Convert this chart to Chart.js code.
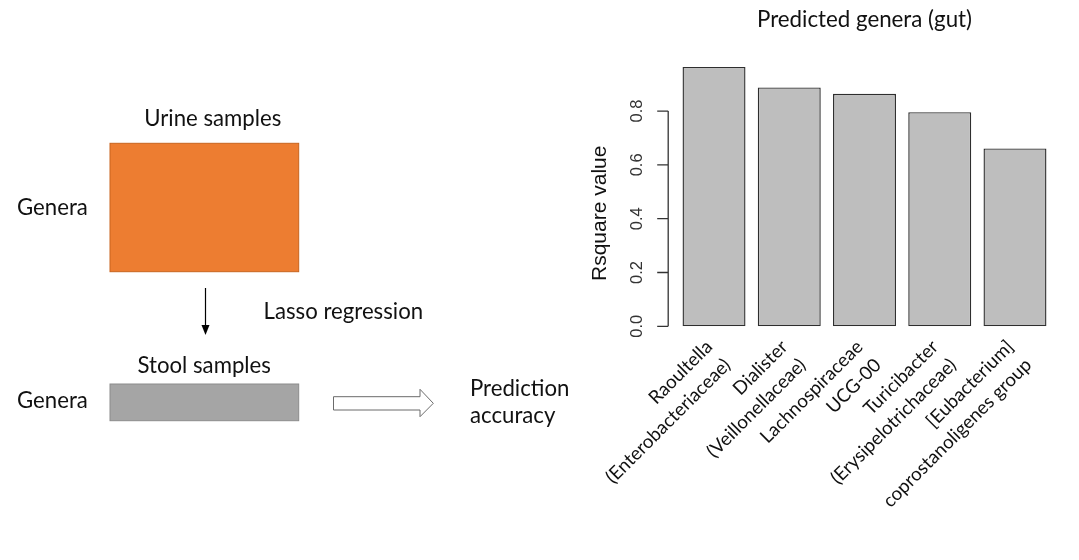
<!DOCTYPE html>
<html><head><meta charset="utf-8">
<script src="https://cdn.jsdelivr.net/npm/chart.js@4"></script>
<style>
html,body{margin:0;padding:0;background:#fff;width:1079px;height:560px;overflow:hidden}
#wrap{position:relative;width:1079px;height:560px}
#c{position:absolute;left:0;top:0}
#diagram{position:absolute;left:0;top:0}
#diagram text{font-family:Lato,"Noto Sans",sans-serif;font-size:22.2px;fill:#111}
</style></head>
<body><div id="wrap">
<canvas id="c" width="1079" height="560"></canvas>
<svg id="diagram" width="1079" height="560" xmlns="http://www.w3.org/2000/svg">
  <rect x="110" y="143.3" width="188.7" height="128.4" fill="#ED7D31" stroke="#C9651F" stroke-width="1"/>
  <rect x="110" y="384" width="188.7" height="36.7" fill="#A5A5A5" stroke="#8C8C8C" stroke-width="1"/>
  <line x1="205.5" y1="288" x2="205.5" y2="326" stroke="#000" stroke-width="1.2"/>
  <polygon points="201.5,325 209.5,325 205.5,335" fill="#000"/>
  <polygon points="333.5,396.7 420,396.7 420,389.3 433.3,403.3 420,416.7 420,410 333.5,410" fill="#fff" stroke="#6b6b6b" stroke-width="1"/>
  <text x="212.8" y="126" text-anchor="middle">Urine samples</text>
  <text x="17" y="215">Genera</text>
  <text x="263.5" y="319.3">Lasso regression</text>
  <text x="204.2" y="373.3" text-anchor="middle">Stool samples</text>
  <text x="17" y="408.3">Genera</text>
  <text x="470" y="396">Prediction</text>
  <text x="470" y="423.3">accuracy</text>
</svg>
</div>
<script>
const categories = [
  ["Raoultella", "(Enterobacteriaceae)"],
  ["Dialister", "(Veillonellaceae)"],
  ["Lachnospiraceae", "UCG-00"],
  ["Turicibacter", "(Erysipelotrichaceae)"],
  ["[Eubacterium]", "coprostanoligenes group"]
];
const rsquare = [0.964, 0.888, 0.864, 0.796, 0.661];
const yTicks = [0, 0.2, 0.4, 0.6, 0.8];
const chartTitle = "Predicted genera (gut)";
const yTitle = "Rsquare value";

const rAxis = {
  id: 'rAxis',
  afterDraw(chart) {
    const ys = chart.scales.y, ctx = chart.ctx;
    const x0 = chart.chartArea.left - 8.2;
    ctx.save();
    ctx.strokeStyle = '#333';
    ctx.lineWidth = 1.3;
    ctx.beginPath();
    ctx.moveTo(x0, ys.getPixelForValue(yTicks[0]));
    ctx.lineTo(x0, ys.getPixelForValue(yTicks[yTicks.length - 1]));
    yTicks.forEach(v => {
      const p = ys.getPixelForValue(v);
      ctx.moveTo(x0, p); ctx.lineTo(x0 - 11, p);
    });
    ctx.stroke();
    ctx.fillStyle = '#333';
    ctx.font = '16.5px "Liberation Sans", Arial, sans-serif';
    ctx.textAlign = 'center';
    ctx.textBaseline = 'middle';
    yTicks.forEach(v => {
      ctx.save();
      ctx.translate(x0 - 30.8, ys.getPixelForValue(v));
      ctx.rotate(-Math.PI / 2);
      ctx.fillText(v.toFixed(1), 0, 0);
      ctx.restore();
    });
    ctx.fillStyle = '#111';
    ctx.font = '21px "Liberation Sans", Arial, sans-serif';
    ctx.textBaseline = 'alphabetic';
    ctx.save();
    ctx.translate(x0 - 62, 213.3);
    ctx.rotate(-Math.PI / 2);
    ctx.fillText(yTitle, 0, 0);
    ctx.restore();
    ctx.restore();
  }
};

new Chart(document.getElementById('c'), {
  type: 'bar',
  data: {
    labels: categories,
    datasets: [{
      data: rsquare,
      backgroundColor: '#BEBEBE',
      borderColor: '#2e2e2e',
      borderWidth: 1.4,
      borderSkipped: false,
      barPercentage: 0.837,
      categoryPercentage: 1
    }]
  },
  options: {
    responsive: false,
    animation: false,
    devicePixelRatio: 1,
    layout: { padding: { left: 676.4, right: 26.4, top: 0, bottom: 33.7 } },
    plugins: {
      legend: { display: false },
      tooltip: { enabled: false },
      title: {
        display: true,
        text: chartTitle,
        fullSize: false,
        color: '#111',
        font: { family: 'Lato', size: 22.3, weight: 'normal', lineHeight: 1.2 },
        padding: { top: 6, bottom: 24.5 }
      }
    },
    scales: {
      x: {
        offset: true,
        grid: { display: false, drawTicks: false },
        border: { display: false },
        ticks: {
          autoSkip: false,
          minRotation: 45,
          maxRotation: 45,
          padding: 8.4,
          labelOffset: -4.8,
          color: '#111',
          font: { family: 'Lato', size: 18.7, lineHeight: 1.374 }
        },
        afterFit(scale) { scale.height = 200; }
      },
      y: {
        display: false,
        min: 0,
        max: 1
      }
    }
  },
  plugins: [rAxis]
});
</script>
</body></html>
